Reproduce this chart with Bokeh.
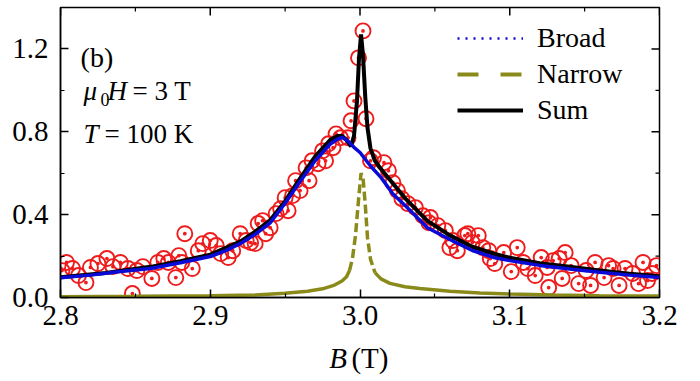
import numpy as np
from bokeh.plotting import figure
from bokeh.layouts import column
from bokeh.models import (Range1d, Label, Legend, LegendItem,
                          FixedTicker, PrintfTickFormatter)
from bokeh.embed import file_html
from bokeh.resources import INLINE

# ---------------- data ----------------
x_ticks = [2.8, 2.9, 3.0, 3.1, 3.2]
x_minor = [2.85, 2.95, 3.05, 3.15]
y_ticks = [0.0, 0.4, 0.8, 1.2]
y_minor = [0.2, 0.6, 1.0]

data_B = [2.801, 2.804, 2.808, 2.812, 2.817, 2.820, 2.825, 2.831, 2.835, 2.840,
          2.845, 2.848, 2.851, 2.855, 2.861, 2.865, 2.869, 2.872, 2.877, 2.879,
          2.881, 2.883, 2.888, 2.892, 2.895, 2.900, 2.904, 2.907, 2.912, 2.915,
          2.920, 2.924, 2.927, 2.930, 2.932, 2.935, 2.937, 2.940, 2.944, 2.947,
          2.950, 2.952, 2.955, 2.957, 2.960, 2.964, 2.966, 2.968, 2.972, 2.975,
          2.977, 2.979, 2.982, 2.984, 2.987, 2.992, 2.994, 2.996, 2.999, 3.002,
          3.004, 3.007, 3.009, 3.016, 3.019, 3.022, 3.025, 3.028, 3.032, 3.037,
          3.042, 3.046, 3.047, 3.052, 3.057, 3.060, 3.062, 3.065, 3.070, 3.072,
          3.075, 3.079, 3.082, 3.086, 3.087, 3.090, 3.096, 3.101, 3.105, 3.109,
          3.112, 3.117, 3.121, 3.125, 3.126, 3.129, 3.133, 3.135, 3.137, 3.141,
          3.146, 3.151, 3.154, 3.157, 3.163, 3.166, 3.169, 3.173, 3.177, 3.182,
          3.186, 3.189, 3.192, 3.195, 3.198]
data_I = [0.130, 0.169, 0.140, 0.106, 0.072, 0.145, 0.164, 0.188, 0.149, 0.169,
          0.140, 0.019, 0.130, 0.149, 0.092, 0.169, 0.188, 0.169, 0.096, 0.202,
          0.169, 0.308, 0.140, 0.226, 0.260, 0.275, 0.251, 0.212, 0.193, 0.226,
          0.308, 0.275, 0.265, 0.260, 0.357, 0.371, 0.308, 0.337, 0.405, 0.429,
          0.482, 0.419, 0.492, 0.564, 0.516, 0.626, 0.564, 0.660, 0.646, 0.708,
          0.660, 0.742, 0.723, 0.790, 0.771, 0.771, 0.853, 0.949, 1.157, 1.287,
          0.863, 0.660, 0.675, 0.651, 0.612, 0.554, 0.516, 0.477, 0.453, 0.434,
          0.395, 0.361, 0.386, 0.347, 0.323, 0.241, 0.275, 0.226, 0.299, 0.308,
          0.265, 0.299, 0.241, 0.226, 0.188, 0.164, 0.217, 0.125, 0.241, 0.169,
          0.140, 0.106, 0.193, 0.145, 0.048, 0.178, 0.188, 0.092, 0.217, 0.154,
          0.067, 0.130, 0.058, 0.169, 0.096, 0.154, 0.140, 0.058, 0.140, 0.116,
          0.067, 0.169, 0.082, 0.116, 0.154]

broad_B = [2.80, 2.82, 2.84, 2.86, 2.88, 2.90, 2.91, 2.92, 2.93, 2.94, 2.95,
           2.96, 2.97, 2.98, 2.985, 2.988, 2.992, 2.996, 3.000, 3.007, 3.014,
           3.022, 3.03, 3.045, 3.06, 3.075, 3.09, 3.10, 3.12, 3.14, 3.16, 3.18, 3.20]
broad_I = [0.095, 0.108, 0.125, 0.140, 0.168, 0.198, 0.225, 0.260, 0.305, 0.360, 0.455,
           0.560, 0.660, 0.740, 0.765, 0.773, 0.755, 0.725, 0.700, 0.635, 0.580,
           0.500, 0.445, 0.337, 0.280, 0.227, 0.192, 0.178, 0.155, 0.138, 0.122, 0.108, 0.096]

narrow_B = [2.80, 2.85, 2.90, 2.93, 2.95, 2.965, 2.975, 2.983, 2.988, 2.991, 2.993,
            2.995, 2.997, 2.999, 3.0007, 3.002, 3.0035, 3.005, 3.007, 3.010, 3.014,
            3.02, 3.03, 3.04, 3.06, 3.08, 3.10, 3.13, 3.16, 3.20]
narrow_I = [0.004, 0.006, 0.009, 0.012, 0.020, 0.030, 0.042, 0.060, 0.080, 0.100, 0.130,
            0.190, 0.300, 0.470, 0.600, 0.580, 0.450, 0.290, 0.185, 0.120, 0.090,
            0.068, 0.052, 0.043, 0.030, 0.022, 0.017, 0.012, 0.009, 0.007]

sum_B = [2.80, 2.83, 2.86, 2.88, 2.90, 2.92, 2.93, 2.94, 2.95, 2.96, 2.97, 2.98,
         2.985, 2.988, 2.991, 2.994, 2.996, 2.998, 2.9993, 3.0007, 3.002, 3.0035,
         3.005, 3.007, 3.010, 3.014, 3.022, 3.03, 3.045, 3.06, 3.075, 3.09, 3.10,
         3.12, 3.14, 3.16, 3.18, 3.20]
sum_I = [0.098, 0.118, 0.148, 0.175, 0.207, 0.270, 0.318, 0.373, 0.465, 0.575, 0.680, 0.760,
         0.780, 0.780, 0.760, 0.730, 0.780, 0.950, 1.150, 1.270, 1.170, 0.970,
         0.820, 0.720, 0.660, 0.620, 0.550, 0.480, 0.370, 0.300, 0.245, 0.210, 0.192,
         0.166, 0.148, 0.130, 0.115, 0.103]

legend_labels = ["Broad", "Narrow", "Sum"]
x_title = ["B", "(T)"]

# ---------------- styles ----------------
RED = "#ee1c1c"
BLUE = "#0a0ad8"
OLIVE = "#8a8a1a"
FONT = "Liberation Serif"
X0, X1, Y0, Y1 = 2.8, 3.2, 0.0, 1.4

p = figure(width=700, height=340, output_backend="svg", toolbar_location=None,
           title=None,
           x_range=Range1d(X0, X1), y_range=Range1d(Y0, Y1),
           min_border_left=60, min_border_right=41, min_border_top=7,
           min_border_bottom=43)
p.extra_y_ranges = {"hidden": Range1d(50, 51)}
p.xgrid.visible = False
p.ygrid.visible = False
p.outline_line_color = "black"
p.outline_line_width = 1.5
p.background_fill_color = "white"


def style_axis(ax, ticks, minor, standoff):
    ax.ticker = FixedTicker(ticks=ticks, minor_ticks=minor)
    ax.formatter = PrintfTickFormatter(format="%.1f")
    ax.major_tick_in = 8
    ax.major_tick_out = 0
    ax.minor_tick_in = 4
    ax.minor_tick_out = 0
    ax.axis_line_width = 1.5
    ax.axis_line_color = "black"
    ax.major_tick_line_width = 1.5
    ax.minor_tick_line_width = 1.2
    ax.major_label_text_font = FONT
    ax.major_label_text_color = "black"
    ax.major_label_text_font_size = "29px"
    ax.major_label_standoff = standoff


style_axis(p.xaxis[0], x_ticks, x_minor, 8)
style_axis(p.yaxis[0], y_ticks, y_minor, 12)

# inward ticks on the top and right frame edges (half of each dash is clipped)
p.scatter(x_ticks, [Y1] * len(x_ticks), marker="dash", angle=np.pi / 2, size=16,
          line_color="black", line_width=1.5)
p.scatter(x_minor, [Y1] * len(x_minor), marker="dash", angle=np.pi / 2, size=8,
          line_color="black", line_width=1.2)
p.scatter([X1] * len(y_ticks), y_ticks, marker="dash", size=16,
          line_color="black", line_width=1.5)
p.scatter([X1] * len(y_minor), y_minor, marker="dash", size=8,
          line_color="black", line_width=1.2)

# data points
p.scatter(data_B, data_I, marker="circle_dot", size=15, fill_alpha=0,
          line_color=RED, line_width=1.9)

# curves
p.line(sum_B, sum_I, line_color="black", line_width=4)
p.line(broad_B, broad_I, line_color=BLUE, line_width=3.5)

nb = np.array(narrow_B)
ni = np.array(narrow_I)
left = nb <= 2.993
mid = (nb >= 2.993) & (nb <= 3.010)
right = nb >= 3.010
p.line(nb[left], ni[left], line_color=OLIVE, line_width=3.5)
p.line(nb[mid], ni[mid], line_color=OLIVE, line_width=3.5, line_dash="9 4")
p.line(nb[right], ni[right], line_color=OLIVE, line_width=3.5)

# legend style samples (drawn on an out-of-view range, shown only in the legend)
r_b = p.line(broad_B, broad_I, line_color=BLUE, line_width=2.5, line_dash="2 6",
             y_range_name="hidden")
r_n = p.line(narrow_B, narrow_I, line_color=OLIVE, line_width=4, line_dash="21 22",
             y_range_name="hidden")
r_s = p.line(sum_B, sum_I, line_color="black", line_width=4, y_range_name="hidden")
legend = Legend(items=[LegendItem(label=legend_labels[0], renderers=[r_b]),
                       LegendItem(label=legend_labels[1], renderers=[r_n]),
                       LegendItem(label=legend_labels[2], renderers=[r_s])],
                location=(397, 171), border_line_alpha=0, background_fill_alpha=0,
                padding=0, margin=0, spacing=4, glyph_width=66, glyph_height=20,
                label_standoff=14, label_text_font=FONT, label_text_font_size="28px",
                label_text_color="black")
p.add_layout(legend)


def lab(fig, x, y, text, size="27px", style="normal"):
    fig.add_layout(Label(x=x, y=y, text=text, text_font=FONT, text_font_size=size,
                         text_font_style=style, text_color="black",
                         text_baseline="alphabetic", text_align="left"))


lab(p, 2.8134, 1.157, "(b)", size="28px")
lab(p, 2.8154, 0.998, "\u03bc", style="italic")
lab(p, 2.8267, 0.954, "0", size="18px")
lab(p, 2.8314, 0.998, "H", style="italic")
lab(p, 2.8481, 0.998, "= 3 T")
lab(p, 2.8154, 0.790, "T", style="italic")
lab(p, 2.8294, 0.790, "= 100 K")

# strip below the chart that carries the x-axis title (italic B + upright unit)
t = figure(width=700, height=41, output_backend="svg", toolbar_location=None,
           title=None,
           x_range=Range1d(0, 700), y_range=Range1d(0, 41),
           min_border_left=0, min_border_right=0, min_border_top=0,
           min_border_bottom=0, x_axis_location=None, y_axis_location=None)
t.xgrid.visible = False
t.ygrid.visible = False
t.outline_line_color = None
lab(t, 314, 24, x_title[0], size="29px", style="italic")
lab(t, 340, 24, x_title[1], size="29px")

layout = column(p, t, spacing=0)
open("out.html", "w").write(file_html(layout, INLINE))
